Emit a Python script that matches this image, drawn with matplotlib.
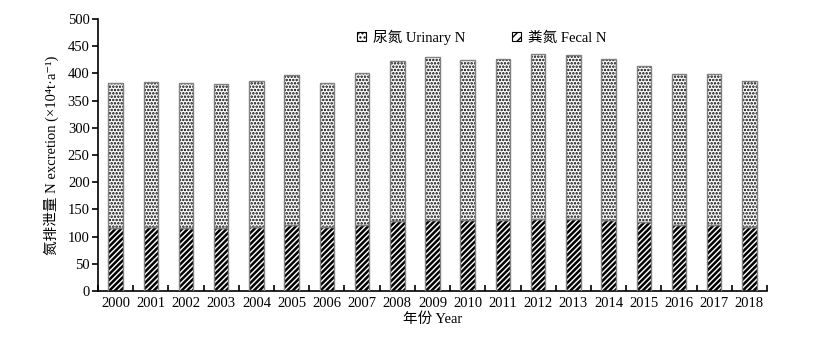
import matplotlib
matplotlib.use("Agg")
import matplotlib.pyplot as plt
from matplotlib.patches import Patch
import numpy as np

# Annual nitrogen excretion, 10^4 t per year
years = ["2000", "2001", "2002", "2003", "2004", "2005", "2006", "2007", "2008", "2009",
         "2010", "2011", "2012", "2013", "2014", "2015", "2016", "2017", "2018"]
total_n = [383, 385, 383, 380, 386, 397, 383, 400, 423, 430,
           425, 427, 436, 434, 427, 414, 399, 398, 386]
fecal_n = [116, 117, 116, 116, 118, 122, 117, 122, 129, 131,
           131, 131, 132, 132, 131, 126, 122, 121, 118]
urinary_n = [t - f for t, f in zip(total_n, fecal_n)]

series_labels = ["尿氮 Urinary N", "粪氮 Fecal N"]
x_label = "年份 Year"
y_label = "氮排泄量 N excretion (×10⁴t·a⁻¹)"

fam = ["Liberation Serif", "Noto Sans CJK SC", "DejaVu Sans"]
plt.rcParams["font.family"] = fam
plt.rcParams["font.size"] = 10

fig = plt.figure(figsize=(8.21, 3.41), dpi=100)
ax = fig.add_axes([98 / 821, 50 / 341, 669 / 821, 272 / 341])

x = np.arange(len(years))
w = 0.41
edge_gray = "#808080"


def hatched_bars(values, bottom, hatch, lw):
    with plt.rc_context({"hatch.linewidth": lw, "hatch.color": "black"}):
        bars = ax.bar(x, values, w, bottom=bottom, color="white",
                      edgecolor="black", linewidth=0, hatch=hatch, zorder=2)
        for b in bars:
            if hasattr(b, "set_hatch_linewidth"):
                b.set_hatch_linewidth(lw)
    ax.bar(x, values, w, bottom=bottom, facecolor="none",
           edgecolor=edge_gray, linewidth=1.0, zorder=3)


hatched_bars(fecal_n, 0, "//////", 1.8)
hatched_bars(urinary_n, fecal_n, ".....", 1.2)

ax.set_xlim(-0.5, len(years) - 0.5)
ax.set_ylim(0, 500)
ax.set_yticks(np.arange(0, 501, 50))
ax.set_xticks(x)
ax.set_xticklabels(years)
ax.set_xticks(np.arange(-0.5, len(years), 1.0), minor=True)

for s in ["top", "right"]:
    ax.spines[s].set_visible(False)
for s in ["left", "bottom"]:
    ax.spines[s].set_linewidth(1.2)

ax.tick_params(axis="y", direction="out", length=4, width=1.2, pad=2, labelsize=10.5)
ax.tick_params(axis="x", which="major", length=0, pad=4, labelsize=10.5)
ax.tick_params(axis="x", which="minor", direction="in", length=4, width=1.2)

ax.set_xlabel(x_label, fontsize=10.5, labelpad=2)
ax.set_ylabel(y_label, fontsize=10.5, labelpad=6)

handles = [
    Patch(facecolor="white", edgecolor="black", hatch="....", linewidth=0.8),
    Patch(facecolor="white", edgecolor="black", hatch="////", linewidth=0.8),
]
ax.legend(handles, series_labels, loc="center", bbox_to_anchor=(0.574, 0.934),
          ncol=2, frameon=False, fontsize=10.5, handlelength=0.6, handleheight=0.6,
          handletextpad=0.5, columnspacing=3.2)

fig.savefig("out.png", dpi=100)
